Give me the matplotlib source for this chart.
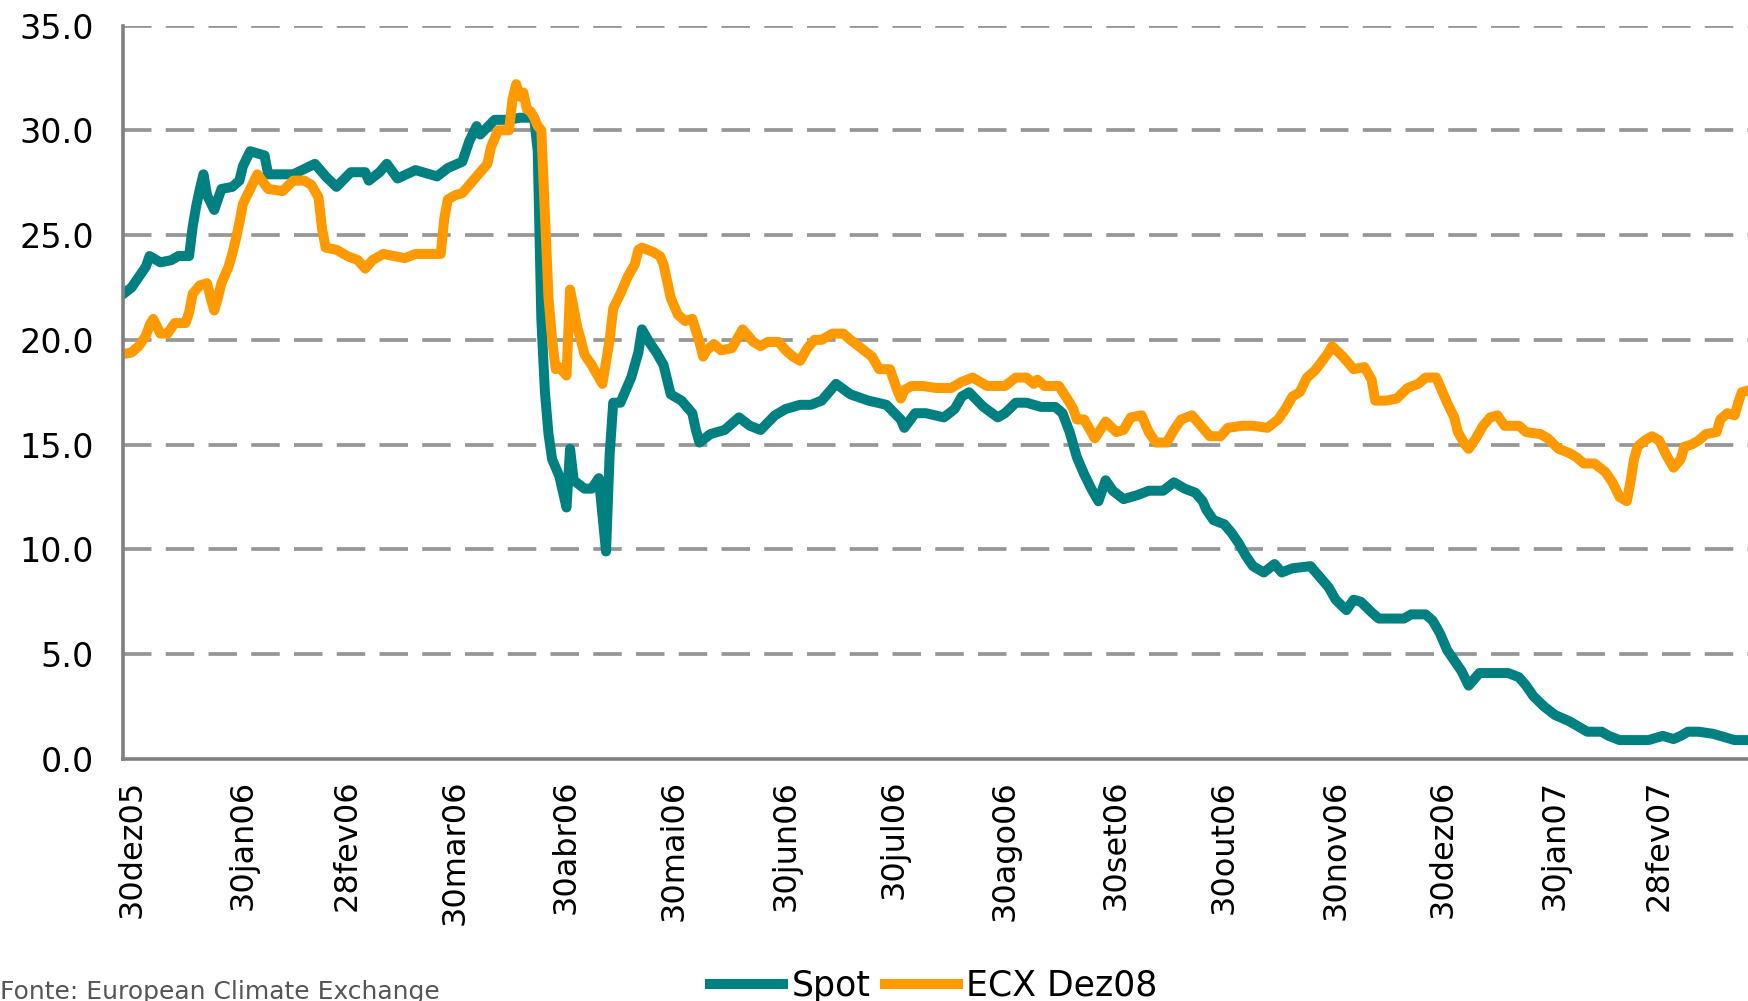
import numpy as np
import matplotlib
matplotlib.use('Agg')
import matplotlib.pyplot as plt
import matplotlib.dates as mdates
from matplotlib.lines import Line2D

# ---------------- data ----------------
BASE_DATE = '2005-12-30'   # day 0 of the day offsets below

spot_days = [-3, 0, 2, 4, 5, 8, 11, 13, 16, 17, 18, 19, 20, 21, 23, 25, 28, 30, 31, 33,
             37, 38, 45, 51, 54, 57, 61, 65, 66, 69, 71, 74, 79, 85, 88, 92, 94, 96, 97, 101,
             105, 108, 112, 113, 114, 115, 116, 117, 119, 121, 122, 123, 126, 128, 130, 132, 133, 134, 136, 139,
             141, 142, 144, 146, 148, 150, 153, 156, 157, 158, 161, 165, 169, 172, 175, 179, 182, 186, 189, 192,
             194, 196, 200, 205, 210, 214, 215, 218, 221, 226, 229, 231, 233, 237, 241, 243, 246, 249, 253, 257,
             259, 261, 263, 265, 267, 269, 271, 273, 276, 280, 283, 287, 290, 293, 296, 298, 299, 301, 304, 306,
             308, 310, 312, 315, 318, 320, 323, 328, 330, 333, 335, 338, 340, 342, 345, 347, 351, 354, 356, 360,
             362, 364, 366, 368, 370, 372, 375, 379, 383, 386, 388, 390, 393, 396, 400, 403, 405, 409, 411, 414,
             418, 422, 426, 429, 431, 433, 436, 440, 446, 450]
spot_values = [22.1, 22.5, 23.0, 23.5, 24.0, 23.7, 23.8, 24.0, 24.0, 25.4, 26.4, 27.2, 27.9, 26.9, 26.2, 27.2, 27.3, 27.6, 28.3, 29.0,
               28.8, 27.9, 27.9, 28.4, 27.8, 27.3, 28.0, 28.0, 27.6, 28.0, 28.4, 27.7, 28.1, 27.8, 28.2, 28.5, 29.5, 30.2, 29.8, 30.5,
               30.5, 30.6, 30.6, 29.0, 21.0, 17.5, 15.5, 14.3, 13.5, 12.0, 14.8, 13.3, 12.9, 12.9, 13.4, 9.9, 14.5, 17.0, 17.0, 18.2,
               19.4, 20.5, 19.9, 19.4, 18.8, 17.4, 17.1, 16.5, 15.7, 15.1, 15.5, 15.7, 16.3, 15.9, 15.7, 16.4, 16.7, 16.9, 16.9, 17.1,
               17.5, 17.9, 17.4, 17.1, 16.9, 16.2, 15.8, 16.5, 16.5, 16.3, 16.7, 17.3, 17.5, 16.8, 16.3, 16.5, 17.0, 17.0, 16.8, 16.8,
               16.5, 15.6, 14.4, 13.6, 12.9, 12.3, 13.3, 12.8, 12.4, 12.6, 12.8, 12.8, 13.2, 12.9, 12.7, 12.3, 11.9, 11.4, 11.2, 10.8,
               10.3, 9.7, 9.2, 8.9, 9.3, 8.9, 9.1, 9.2, 8.8, 8.2, 7.6, 7.1, 7.6, 7.5, 7.0, 6.7, 6.7, 6.7, 6.9, 6.9,
               6.6, 6.0, 5.2, 4.7, 4.2, 3.5, 4.1, 4.1, 4.1, 3.9, 3.5, 3.0, 2.5, 2.1, 1.8, 1.5, 1.3, 1.3, 1.1, 0.9,
               0.9, 0.9, 1.1, 0.95, 1.1, 1.3, 1.3, 1.2, 0.9, 0.9]

ecx_days = [-3, 0, 2, 4, 5, 6, 8, 10, 12, 15, 16, 17, 19, 21, 22, 23, 24, 25, 27, 28,
            29, 30, 31, 33, 35, 38, 42, 45, 48, 50, 51, 52, 53, 54, 57, 60, 63, 65, 67, 70,
            73, 76, 79, 83, 86, 87, 88, 90, 92, 94, 95, 97, 99, 100, 102, 105, 106, 107, 108, 109,
            110, 111, 112, 113, 114, 115, 116, 117, 118, 119, 121, 122, 124, 125, 126, 128, 130, 131, 133, 134,
            136, 138, 140, 141, 142, 145, 147, 148, 149, 150, 152, 154, 156, 158, 159, 160, 162, 164, 167, 168,
            170, 173, 175, 177, 180, 182, 184, 186, 188, 190, 192, 195, 198, 200, 203, 206, 208, 211, 213, 214,
            215, 217, 220, 224, 228, 231, 234, 238, 243, 246, 249, 251, 252, 254, 258, 261, 262, 263, 265, 267,
            268, 271, 274, 276, 278, 281, 283, 285, 288, 290, 292, 295, 298, 300, 303, 305, 309, 312, 316, 319,
            321, 323, 325, 327, 329, 330, 333, 334, 337, 339, 340, 343, 345, 346, 349, 352, 355, 358, 360, 363,
            364, 366, 368, 369, 371, 372, 374, 376, 378, 380, 382, 386, 388, 392, 394, 397, 400, 402, 404, 407,
            410, 412, 414, 416, 417, 418, 419, 421, 423, 425, 427, 429, 431, 432, 434, 436, 438, 441, 442, 444,
            446, 447, 448, 450]
ecx_values = [19.3, 19.4, 19.7, 20.2, 20.7, 21.0, 20.3, 20.3, 20.8, 20.8, 21.3, 22.2, 22.6, 22.7, 22.0, 21.4, 22.0, 22.7, 23.5, 24.1,
              24.8, 25.6, 26.5, 27.2, 27.9, 27.2, 27.1, 27.6, 27.6, 27.4, 27.1, 26.8, 25.3, 24.4, 24.3, 24.0, 23.8, 23.4, 23.8, 24.1,
              24.0, 23.9, 24.1, 24.1, 24.1, 25.8, 26.7, 26.9, 27.0, 27.4, 27.6, 28.0, 28.4, 29.2, 30.0, 30.0, 31.5, 32.2, 31.6, 31.8,
              31.0, 30.9, 30.6, 30.2, 30.0, 26.0, 22.0, 20.0, 18.6, 18.7, 18.3, 22.4, 20.6, 20.0, 19.3, 18.8, 18.2, 17.9, 20.0, 21.5,
              22.2, 23.0, 23.6, 24.3, 24.4, 24.2, 24.0, 23.6, 22.8, 22.0, 21.2, 20.9, 21.0, 19.9, 19.2, 19.5, 19.8, 19.5, 19.6, 19.9,
              20.5, 19.9, 19.7, 19.9, 19.9, 19.5, 19.2, 19.0, 19.6, 20.0, 20.0, 20.3, 20.3, 20.0, 19.6, 19.2, 18.6, 18.6, 17.6, 17.2,
              17.6, 17.8, 17.8, 17.7, 17.7, 18.0, 18.2, 17.8, 17.8, 18.2, 18.2, 17.9, 18.1, 17.8, 17.8, 17.0, 16.7, 16.2, 16.2, 15.6,
              15.3, 16.1, 15.6, 15.7, 16.3, 16.4, 15.6, 15.1, 15.1, 15.7, 16.2, 16.4, 15.8, 15.4, 15.4, 15.8, 15.9, 15.9, 15.8, 16.2,
              16.7, 17.3, 17.5, 18.2, 18.5, 18.7, 19.4, 19.7, 19.2, 18.8, 18.6, 18.7, 18.1, 17.1, 17.1, 17.2, 17.7, 17.9, 18.2, 18.2,
              17.8, 17.0, 16.3, 15.6, 15.0, 14.8, 15.3, 15.9, 16.3, 16.4, 15.9, 15.9, 15.6, 15.5, 15.3, 14.8, 14.6, 14.4, 14.1, 14.1,
              13.7, 13.2, 12.5, 12.3, 13.2, 14.3, 14.9, 15.2, 15.4, 15.2, 14.5, 13.9, 14.3, 14.9, 15.0, 15.2, 15.5, 15.6, 16.2, 16.5,
              16.4, 17.0, 17.5, 17.6]

tick_dates = ['2005-12-30', '2006-01-30', '2006-02-28', '2006-03-30', '2006-04-30',
              '2006-05-30', '2006-06-30', '2006-07-30', '2006-08-30', '2006-09-30',
              '2006-10-30', '2006-11-30', '2006-12-30', '2007-01-30', '2007-02-28']
tick_labels = ['30dez05', '30jan06', '28fev06', '30mar06', '30abr06',
               '30mai06', '30jun06', '30jul06', '30ago06', '30set06',
               '30out06', '30nov06', '30dez06', '30jan07', '28fev07']
y_ticks = [0, 5, 10, 15, 20, 25, 30, 35]
series_names = ['Spot', 'ECX Dez08']
source_text = 'Fonte: European Climate Exchange'

# ---------------- styling ----------------
TEAL = '#008080'
ORANGE = '#FF9900'
GRID = '#969696'
AXIS = '#808080'
FS = 24

plt.rcParams['font.family'] = ['DejaVu Sans']

base = np.datetime64(BASE_DATE)
spot_x = base + np.array(spot_days, dtype='timedelta64[D]')
ecx_x = base + np.array(ecx_days, dtype='timedelta64[D]')
tick_x = np.array(tick_dates, dtype='datetime64[D]')

fig = plt.figure(figsize=(17.49, 10.01), dpi=100)
ax = fig.add_axes([0.0703, 0.2418, 0.9297, 0.7327])

ax.plot(spot_x, spot_values, color=TEAL, lw=7.2, solid_joinstyle='round',
        solid_capstyle='butt', zorder=3)
ax.plot(ecx_x, ecx_values, color=ORANGE, lw=7.2, solid_joinstyle='round',
        solid_capstyle='butt', zorder=4)

x0 = mdates.date2num(base)
ax.set_xlim(x0 - 2.4, x0 + 450)
ax.set_ylim(0, 35)

# grid
for yv in y_ticks[1:]:
    ax.axhline(yv, color=GRID, lw=2.7, linestyle=(0, (7.6, 3.8)), zorder=1)

for s in ['top', 'right']:
    ax.spines[s].set_visible(False)
for s in ['left', 'bottom']:
    ax.spines[s].set_color(AXIS)
    ax.spines[s].set_linewidth(2.6)
    ax.spines[s].set_zorder(5)

ax.set_yticks(y_ticks)
ax.set_yticklabels([f'{v:.1f}' for v in y_ticks])
ax.set_xticks(mdates.date2num(tick_x))
ax.set_xticklabels(tick_labels, rotation=90)
ax.tick_params(axis='y', length=0, pad=21, labelsize=FS, labelcolor='black')
ax.tick_params(axis='x', length=0, pad=15, labelsize=FS - 1, labelcolor='black')

handles = [Line2D([0], [0], color=TEAL, lw=7.2),
           Line2D([0], [0], color=ORANGE, lw=7.2)]
fig.legend(handles, series_names, loc='center', bbox_to_anchor=(0.534, 0.0153),
           ncol=2, frameon=False, fontsize=FS + 1, handlelength=2.1,
           handletextpad=0.25, columnspacing=0.4, borderpad=0, borderaxespad=0)

fig.text(0.0, 1 - 980 / 1001, source_text, ha='left', va='top',
         fontsize=18, color='#555555')

fig.savefig('out.png', dpi=100)
